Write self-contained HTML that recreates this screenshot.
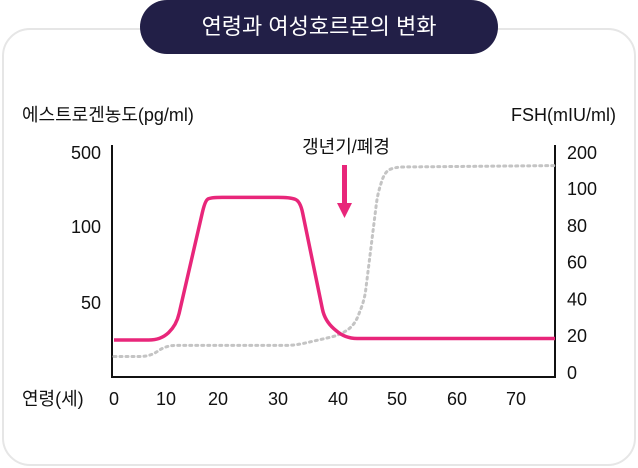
<!DOCTYPE html>
<html><head><meta charset="utf-8">
<style>
body{margin:0;width:638px;height:468px;background:#fff;overflow:hidden;font-family:"Liberation Sans","Noto Sans CJK KR",sans-serif;}
.card{position:absolute;left:2px;top:28px;width:630px;height:434px;border:2px solid #e6e6e6;border-radius:28px;background:#fff;}
.pill{position:absolute;left:140px;top:0;width:358px;height:54px;border-radius:27px;background:#221f47;color:#fff;font-size:22px;line-height:54px;text-align:center;}
svg{position:absolute;left:0;top:0;}
svg text{font-family:"Liberation Sans","Noto Sans CJK KR",sans-serif;font-size:18px;fill:#111;}
</style></head><body>
<div class="card"></div>
<div class="pill">연령과 여성호르몬의 변화</div>
<svg width="638" height="468" id="chart">
<text x="22" y="121">에스트로겐농도(pg/ml)</text>
<text x="616" y="121" text-anchor="end">FSH(mIU/ml)</text>
<text x="22" y="405">연령(세)</text>
<line x1="112" y1="145" x2="112" y2="377" stroke="#111" stroke-width="2"/>
<line x1="555" y1="145" x2="555" y2="377" stroke="#111" stroke-width="2"/>
<line x1="111" y1="377" x2="556" y2="377" stroke="#111" stroke-width="2"/>
<text x="346" y="153" text-anchor="middle">갱년기/폐경</text>
<g><rect x="342" y="165" width="5" height="40" fill="#e8267a"/><polygon points="337,203 352,203 344.5,218" fill="#e8267a"/></g>
<g id="marks"></g>
</svg>
<script>
const xTicks=[0,10,20,30,40,50,60,70];
const leftTicks=[500,100,50];
const rightTicks=[200,100,80,60,40,20,0];
const estrogenAge=[0,9,12,17.5,18.5,32,33.7,37.8,41.2,78];
const estrogenVal=[25,25,35,240,260,260,240,38,26,26];
const fshAge=[0,7,10,32.8,40.3,42.8,44.5,46.7,47.9,49.6,78];
const fshVal=[9,9,15,15,20.6,26,40,97,147,161,165];

function pw(dom,rng,v){for(let i=0;i<dom.length-1;i++){if(v<=dom[i+1]||i===dom.length-2){const t=(v-dom[i])/(dom[i+1]-dom[i]);return rng[i]+t*(rng[i+1]-rng[i]);}}}
const xs=v=>pw([0,10,20,30,40,50,60,70,78],[114,166,218,278,338,397,457,516,555],v);
const yl=v=>pw([0,50,100,500],[377,303,227,153],v);
const yr=v=>pw([0,100,200],[373,189,153],v);
const svg=document.getElementById('marks');const NS='http://www.w3.org/2000/svg';
function txt(x,y,s,anchor){const t=document.createElementNS(NS,'text');t.setAttribute('x',x);t.setAttribute('y',y);t.setAttribute('text-anchor',anchor);t.textContent=s;svg.appendChild(t);return t;}
xTicks.forEach(v=>{const t=txt(xs(v),405,v,'middle');

});
leftTicks.forEach(v=>{const t=txt(101,yl(v)+6,v,'end');

});
rightTicks.forEach(v=>{const t=txt(567,yr(v)+6,v,'start');

});
function rounded(pts,r){let d='M'+pts[0][0]+','+pts[0][1];
for(let i=1;i<pts.length-1;i++){const p=pts[i],a=pts[i-1],b=pts[i+1];
const la=Math.hypot(p[0]-a[0],p[1]-a[1]),lb=Math.hypot(b[0]-p[0],b[1]-p[1]);
const ra=Math.min(r,la/2),rb=Math.min(r,lb/2);
const s=[p[0]+(a[0]-p[0])*ra/la,p[1]+(a[1]-p[1])*ra/la],e=[p[0]+(b[0]-p[0])*rb/lb,p[1]+(b[1]-p[1])*rb/lb];
d+=' L'+s[0]+','+s[1]+' Q'+p[0]+','+p[1]+' '+e[0]+','+e[1];}
const l=pts[pts.length-1];d+=' L'+l[0]+','+l[1];return d;}
const fp=fshAge.map((a,i)=>[xs(a),yr(fshVal[i])]);
const f=document.createElementNS(NS,'path');f.setAttribute('d',rounded(fp,10));f.setAttribute('fill','none');f.setAttribute('stroke','#c4c4c4');f.setAttribute('stroke-width','3');f.setAttribute('stroke-dasharray','2 4');f.setAttribute('stroke-linecap','round');


svg.appendChild(f);
const ep=estrogenAge.map((a,i)=>[xs(a),yl(estrogenVal[i])]);
const e=document.createElementNS(NS,'path');e.setAttribute('d',rounded(ep,12));e.setAttribute('fill','none');e.setAttribute('stroke','#e8267a');e.setAttribute('stroke-width','3.5');


svg.appendChild(e);
</script>
</body></html>
